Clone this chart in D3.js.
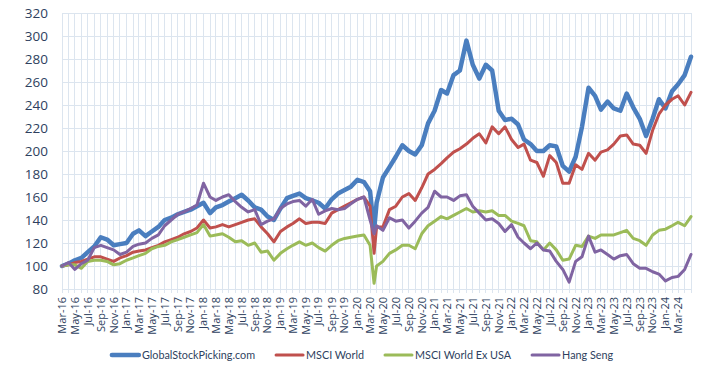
<!DOCTYPE html>
<html>
<head>
<meta charset="utf-8">
<script src="https://cdn.jsdelivr.net/npm/d3@7"></script>
<style>
  body { margin: 0; background: #fff; }
  svg { display: block; font-family: "Open Sans", sans-serif; }
</style>
</head>
<body>
<svg id="chart" width="725" height="375"></svg>
<script>
// Monthly observations (first of month), plus the Mar-2020 trough.
var dates = [
  "2016-03-01","2016-04-01","2016-05-01","2016-06-01","2016-07-01","2016-08-01","2016-09-01","2016-10-01","2016-11-01","2016-12-01",
  "2017-01-01","2017-02-01","2017-03-01","2017-04-01","2017-05-01","2017-06-01","2017-07-01","2017-08-01","2017-09-01","2017-10-01","2017-11-01","2017-12-01",
  "2018-01-01","2018-02-01","2018-03-01","2018-04-01","2018-05-01","2018-06-01","2018-07-01","2018-08-01","2018-09-01","2018-10-01","2018-11-01","2018-12-01",
  "2019-01-01","2019-02-01","2019-03-01","2019-04-01","2019-05-01","2019-06-01","2019-07-01","2019-08-01","2019-09-01","2019-10-01","2019-11-01","2019-12-01",
  "2020-01-01","2020-02-01","2020-03-01","2020-03-20","2020-04-01","2020-05-01","2020-06-01","2020-07-01","2020-08-01","2020-09-01","2020-10-01","2020-11-01","2020-12-01",
  "2021-01-01","2021-02-01","2021-03-01","2021-04-01","2021-05-01","2021-06-01","2021-07-01","2021-08-01","2021-09-01","2021-10-01","2021-11-01","2021-12-01",
  "2022-01-01","2022-02-01","2022-03-01","2022-04-01","2022-05-01","2022-06-01","2022-07-01","2022-08-01","2022-09-01","2022-10-01","2022-11-01","2022-12-01",
  "2023-01-01","2023-02-01","2023-03-01","2023-04-01","2023-05-01","2023-06-01","2023-07-01","2023-08-01","2023-09-01","2023-10-01","2023-11-01","2023-12-01",
  "2024-01-01","2024-02-01","2024-03-01","2024-04-01","2024-05-01"
];

var gsp = [
  100,102,105,107,112,117,125,123,118,119,
  120,128,131,126,130,134,140,142,145,147,149,152,
  155,146,151,153,156,159,162,157,151,149,143,140,
  150,159,161,163,159,157,155,150,158,163,166,169,
  175,173,165,131,155,177,186,195,205,200,197,205,224,
  235,253,250,266,270,296,275,263,275,270,235,227,
  228,223,210,206,200,200,205,204,187,182,195,221,
  255,248,236,243,237,235,250,238,228,213,228,245,
  237,252,258,266,282
];
var msciWorld = [
  100,101,103,104,106,108,108,106,104,107,
  109,112,113,114,116,118,121,123,125,128,130,133,
  140,133,134,136,134,136,138,140,141,134,128,121,
  130,134,137,141,137,138,138,137,146,149,152,155,
  158,160,152,111,134,134,149,152,160,163,157,168,180,
  184,189,194,199,202,206,211,215,207,221,215,221,
  210,203,206,192,190,178,196,190,172,172,188,184,
  198,192,199,201,206,213,214,206,205,198,218,232,
  240,245,248,240,251
];
var msciExUsa = [
  100,101,101,98,104,105,105,104,101,102,
  105,107,109,111,115,117,118,121,123,125,127,129,
  136,126,127,128,125,121,122,118,120,112,113,105,
  111,115,118,121,118,120,116,113,118,122,124,125,
  126,127,118,85,100,104,111,114,118,118,115,128,135,
  139,143,141,144,147,150,147,148,147,148,144,144,
  139,137,135,122,121,114,120,114,105,106,118,117,
  126,124,127,127,127,129,131,124,122,118,127,131,
  132,135,138,135,143
];
var hangSeng = [
  100,103,97,102,105,116,118,116,114,110,
  112,117,119,120,124,127,135,140,145,147,150,153,
  172,160,157,160,162,156,151,147,149,136,139,141,
  150,154,156,157,152,158,145,148,150,149,150,154,
  158,160,140,128,135,131,142,139,140,133,139,146,151,
  165,160,160,157,161,162,152,146,140,141,137,130,
  136,125,120,115,120,114,113,104,97,86,104,108,
  126,112,114,110,106,109,110,102,98,98,95,93,
  87,90,91,97,110
];

var seriesNames = ["GlobalStockPicking.com", "MSCI World", "MSCI World Ex USA", "Hang Seng"];
var seriesValues = [gsp, msciWorld, msciExUsa, hangSeng];
var seriesColors = ["#4A7EBF", "#C0504D", "#9BBB59", "#8064A2"];
var seriesWidths = [4.5, 3, 3, 3];
var yTicks = [80, 100, 120, 140, 160, 180, 200, 220, 240, 260, 280, 300, 320];

var TEXT = "#2E3F5E", GRID = "#DCE5EF";
var parse = d3.timeParse("%Y-%m-%d");
var dts = dates.map(parse);
var start = parse("2016-03-01"), end = parse("2024-05-01");

var svg = d3.select("#chart");
var M = { l: 62, r: 691, t: 13, b: 289 };
var x = d3.scaleTime().domain([start, end]).range([M.l, M.r]);
var y = d3.scaleLinear().domain([80, 320]).range([M.b, M.t]);

// grid
var months = d3.timeMonth.range(start, d3.timeDay.offset(end, 1));
svg.append("g").selectAll("line").data(months).enter().append("line")
  .attr("x1", function (d) { return x(d); }).attr("x2", function (d) { return x(d); })
  .attr("y1", M.t).attr("y2", M.b + 4)
  .attr("stroke", GRID).attr("stroke-width", 1).attr("shape-rendering", "crispEdges");
svg.append("g").selectAll("line").data(yTicks).enter().append("line")
  .attr("x1", M.l).attr("x2", M.r)
  .attr("y1", function (d) { return y(d); }).attr("y2", function (d) { return y(d); })
  .attr("stroke", GRID).attr("stroke-width", 1).attr("shape-rendering", "crispEdges");

// y labels
svg.append("g").selectAll("text").data(yTicks).enter().append("text")
  .attr("x", 48).attr("y", function (d) { return y(d); }).attr("dy", "0.35em")
  .attr("text-anchor", "end").attr("fill", TEXT).style("font-size", "13.5px")
  .text(function (d) { return d; });

// x axis labels
var tickDates = d3.timeMonth.range(start, parse("2024-04-01"), 2);
var fmt = d3.timeFormat("%b-%y");
svg.append("g").selectAll("text").data(tickDates).enter().append("text")
  .attr("transform", function (d) { return "translate(" + x(d) + "," + (M.b + 8) + ") rotate(-90)"; })
  .attr("text-anchor", "end").attr("dy", "0.35em")
  .attr("fill", TEXT).style("font-size", "11px")
  .text(fmt);

// lines
var line = d3.line()
  .x(function (d, i) { return x(dts[i]); })
  .y(function (d) { return y(d); });
seriesValues.forEach(function (vals, k) {
  svg.append("path").datum(vals)
    .attr("d", line).attr("fill", "none")
    .attr("stroke", seriesColors[k]).attr("stroke-width", seriesWidths[k])
    .attr("stroke-linejoin", "round").attr("stroke-linecap", "round");
});

// legend
var lg = svg.append("g");
var cx = 0;
seriesNames.forEach(function (name, k) {
  var g = lg.append("g");
  g.append("line").attr("x1", 0).attr("x2", 27).attr("y1", 0).attr("y2", 0)
    .attr("stroke", seriesColors[k]).attr("stroke-width", seriesWidths[k])
    .attr("stroke-linecap", "round");
  var t = g.append("text").attr("x", 30).attr("dy", "0.35em")
    .attr("fill", TEXT).style("font-family", "Lato, sans-serif")
    .style("font-size", "10.8px").text(name);
  var w = 30 + t.node().getComputedTextLength();
  g.attr("transform", "translate(" + cx + ",0)");
  cx += w + 21;
});
var total = cx - 21;
lg.attr("transform", "translate(" + (362.5 - total / 2) + ",355)");
</script>
</body>
</html>
